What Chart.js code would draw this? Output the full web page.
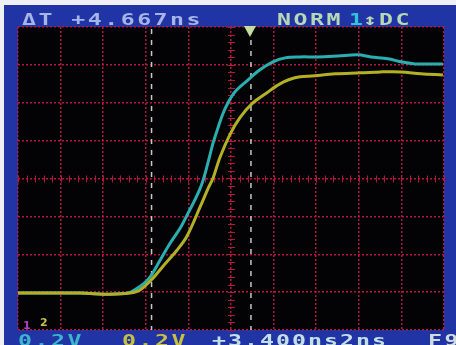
<!DOCTYPE html>
<html><head><meta charset="utf-8">
<script src="https://cdn.jsdelivr.net/npm/chart.js@4/dist/chart.umd.min.js"></script>
<style>html,body{margin:0;padding:0;background:#fff;overflow:hidden}#wrap{width:456px;height:345px;position:relative}</style>
</head><body><div id="wrap"><canvas id="c" width="456" height="345"></canvas></div>
<script>
// Time axis in ns (2 ns/div), voltage in V (0.2 V/div)
const xTicks = [-10, -8, -6, -4, -2, 0, 2, 4, 6, 8, 10];
const yTicks = [-0.8, -0.6, -0.4, -0.2, 0, 0.2, 0.4, 0.6, 0.8];

const cyanTime  = [-10.0, -7.09, -5.68, -4.84, -4.46, -4.13, -3.80, -3.33, -2.86, -2.39, -2.02, -1.69, -1.36, -1.08, -0.85, -0.61, -0.38, -0.14, 0.19, 0.75, 1.36, 1.97, 2.54, 3.24, 4.08, 5.02, 5.96, 6.57, 7.37, 7.98, 8.64, 9.25, 9.95];
const cyanVolts = [-0.605, -0.605, -0.611, -0.605, -0.584, -0.558, -0.521, -0.432, -0.342, -0.263, -0.184, -0.112, -0.026, 0.084, 0.184, 0.268, 0.342, 0.400, 0.458, 0.516, 0.574, 0.616, 0.637, 0.642, 0.642, 0.647, 0.653, 0.642, 0.632, 0.616, 0.605, 0.605, 0.605];

const yellowTime  = [-10.0, -7.09, -5.68, -4.74, -4.27, -3.66, -3.19, -2.54, -2.07, -1.46, -1.08, -0.85, -0.52, -0.05, 0.42, 0.99, 1.69, 2.30, 3.00, 3.94, 4.88, 6.10, 7.04, 7.98, 8.92, 9.95];
const yellowVolts = [-0.605, -0.605, -0.611, -0.605, -0.589, -0.526, -0.463, -0.379, -0.305, -0.153, -0.053, 0.0, 0.111, 0.232, 0.321, 0.395, 0.453, 0.500, 0.532, 0.542, 0.553, 0.558, 0.563, 0.563, 0.553, 0.547];

const cursorTimes = [-3.73, 0.937];
const triggerTime = 0.89;

const topLabels = ["ΔT +4.667ns", "NORM", "1", "↕", "DC"];
const bottomLabels = ["0.2V", "0.2V", "+3.400ns2ns", "F9"];
const groundLabels = ["1", "2"];

function toXY(ts, vs) { return ts.map((t, i) => ({ x: t, y: vs[i] })); }

const GRID = '#b0183f';

function drawScopeText(ctx, str, x, y, color, pitch) {
  ctx.save();
  ctx.font = 'bold 16px "DejaVu Sans Mono"';
  const sx = 1.45;
  const adv = ctx.measureText('M').width * sx;
  ctx.translate(x, y);
  ctx.scale(sx, 1);
  ctx.letterSpacing = ((pitch - adv) / sx) + 'px';
  ctx.fillStyle = color;
  ctx.textBaseline = 'alphabetic';
  ctx.fillText(str, 0, 0);
  ctx.restore();
}

const scopePlugin = {
  id: 'scope',
  beforeDraw(chart) {
    const { ctx, chartArea: a } = chart;
    ctx.save();
    ctx.fillStyle = '#2034a6';
    ctx.fillRect(0, 0, chart.width, chart.height);
    ctx.fillStyle = '#eef0f4';
    ctx.fillRect(0, 0, chart.width, 5);
    ctx.fillRect(0, 0, 4, chart.height);
    ctx.fillStyle = '#030306';
    ctx.fillRect(a.left, a.top, a.right - a.left, a.bottom - a.top);
    ctx.restore();
  },
  beforeDatasetsDraw(chart) {
    const { ctx, chartArea: a, scales: { x, y } } = chart;
    ctx.save();
    ctx.strokeStyle = GRID;
    ctx.lineWidth = 1;
    const cx = x.getPixelForValue(0), cy = y.getPixelForValue(0);
    ctx.beginPath();
    for (let v = -0.8; v <= 0.8001; v += 0.04) {
      const py = Math.round(y.getPixelForValue(v)) + 0.5;
      ctx.moveTo(cx - 3, py); ctx.lineTo(cx + 4, py);
    }
    for (let t = -10; t <= 10.001; t += 0.4) {
      const px = Math.round(x.getPixelForValue(t)) + 0.5;
      ctx.moveTo(px, cy - 3); ctx.lineTo(px, cy + 4);
    }
    ctx.stroke();
    ctx.strokeStyle = '#c8c8c0';
    ctx.lineWidth = 1.5;
    ctx.setLineDash([5, 6]);
    cursorTimes.forEach(t => {
      const px = x.getPixelForValue(t);
      ctx.beginPath(); ctx.moveTo(px, a.top + 2); ctx.lineTo(px, a.bottom); ctx.stroke();
    });
    ctx.restore();
  },
  afterDraw(chart) {
    const { ctx, scales: { x } } = chart;
    ctx.save();
    const tx = x.getPixelForValue(triggerTime);
    ctx.fillStyle = '#c4dc9c';
    ctx.beginPath();
    ctx.moveTo(tx - 6, 26); ctx.lineTo(tx + 6, 26); ctx.lineTo(tx, 37); ctx.closePath(); ctx.fill();
    ctx.restore();
    drawScopeText(ctx, topLabels[0], 22, 25, '#a6b4e6', 16.45);
    drawScopeText(ctx, topLabels[1], 277, 25, '#b6d8b4', 16.5);
    drawScopeText(ctx, topLabels[2], 349, 25, '#2ec4dc', 16.5);
    drawScopeText(ctx, topLabels[3], 363, 25, '#b6d8b4', 16.5);
    drawScopeText(ctx, topLabels[4], 379, 25, '#b6d8b4', 16.5);
    drawScopeText(ctx, bottomLabels[0], 18, 346, '#3cb4cc', 16.5);
    drawScopeText(ctx, bottomLabels[1], 122, 346, '#c8c040', 16.5);
    drawScopeText(ctx, bottomLabels[2], 212, 346, '#c4e0e4', 16.0);
    drawScopeText(ctx, bottomLabels[3], 428, 346, '#d0dce0', 16.5);
    ctx.save();
    ctx.font = 'bold 11px "DejaVu Sans"';
    ctx.fillStyle = '#b040c0';
    ctx.fillText(groundLabels[0], 23, 329);
    ctx.fillStyle = '#c8c040';
    ctx.fillText(groundLabels[1], 40, 326);
    ctx.restore();
  }
};

new Chart(document.getElementById('c'), {
  type: 'line',
  data: {
    datasets: [
      { label: 'CH2', data: toXY(yellowTime, yellowVolts), borderColor: '#b4b024', borderWidth: 3, pointRadius: 0, tension: 0.35, fill: false },
      { label: 'CH1', data: toXY(cyanTime, cyanVolts), borderColor: '#2aaeb0', borderWidth: 3, pointRadius: 0, tension: 0.35, fill: false }
    ]
  },
  options: {
    responsive: false,
    animation: false,
    devicePixelRatio: 1,
    layout: { padding: { left: 18, right: 12, top: 27, bottom: 15 } },
    plugins: { legend: { display: false }, tooltip: { enabled: false }, title: { display: false } },
    scales: {
      x: {
        type: 'linear', min: -10, max: 10,
        afterBuildTicks: s => { s.ticks = xTicks.map(v => ({ value: v })); },
        ticks: { display: false },
        grid: { color: GRID, lineWidth: 1.5, drawTicks: false },
        border: { display: false, dash: [2, 2] }
      },
      y: {
        type: 'linear', min: -0.8, max: 0.8,
        afterBuildTicks: s => { s.ticks = yTicks.map(v => ({ value: v })); },
        ticks: { display: false },
        grid: { color: GRID, lineWidth: 1.5, drawTicks: false },
        border: { display: false, dash: [2, 2] }
      }
    }
  },
  plugins: [scopePlugin]
});
</script>
</body></html>
